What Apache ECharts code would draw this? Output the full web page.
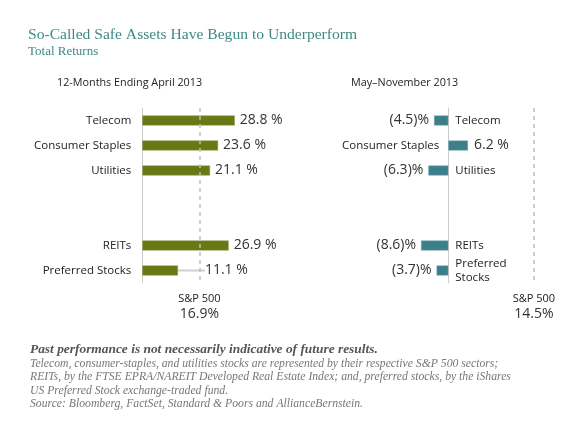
<!DOCTYPE html>
<html>
<head>
<meta charset="utf-8">
<script src="https://cdn.jsdelivr.net/npm/echarts@6/dist/echarts.min.js"></script>
<style>
html,body{margin:0;padding:0;background:#fff;}
#chart{width:580px;height:429px;}
</style>
</head>
<body>
<div id="chart"></div>
<script>
// ---- data ----
const categories = ['Telecom', 'Consumer Staples', 'Utilities', 'REITs', 'Preferred Stocks'];
const leftValues = [28.8, 23.6, 21.1, 26.9, 11.1];      // 12-Months Ending April 2013
const rightValues = [-4.5, 6.2, -6.3, -8.6, -3.7];      // May–November 2013
const benchmarkName = 'S&P 500';
const benchmarkValues = [16.9, 14.5];
const panelTitles = ['12-Months Ending April 2013', 'May–November 2013'];
const chartTitle = 'So-Called Safe Assets Have Begun to Underperform';
const chartSubtitle = 'Total Returns';
const noteBold = 'Past performance is not necessarily indicative of future results.';
const noteLines = [
  'Telecom, consumer-staples, and utilities stocks are represented by their respective S&P 500 sectors;',
  'REITs, by the FTSE EPRA/NAREIT Developed Real Estate Index; and, preferred stocks, by the iShares',
  'US Preferred Stock exchange-traded fund.',
  'Source: Bloomberg, FactSet, Standard & Poors and AllianceBernstein.'
];

// ---- layout helpers (gap rows between Utilities and REITs) ----
const gapKeys = [' ', '  '];
const axisCats = categories.slice(0, 3).concat(gapKeys, categories.slice(3));
function spread(vals) {
  return vals.slice(0, 3).concat([null, null], vals.slice(3));
}

const SANS = '"Open Sans", "Noto Sans", sans-serif';
const SERIF = '"Liberation Serif", "DejaVu Serif", serif';
const olive = '#687914';
const teal = '#3b7f8b';

const leftData = spread(leftValues).map((v, i) => {
  if (v == null) return null;
  const item = { value: v };
  if (axisCats[i] === 'Preferred Stocks') {
    item.labelLine = { show: true, lineStyle: { color: '#cfcfcf', width: 2 } };
  }
  return item;
});

const rightData = spread(rightValues).map(v => {
  if (v == null) return null;
  return { value: v, label: { position: v < 0 ? 'left' : 'right', distance: v < 0 ? 5 : 6 } };
});

const rightNames = [];
axisCats.forEach((c, i) => {
  const v = spread(rightValues)[i];
  if (v == null) return;
  rightNames.push({
    name: c,
    value: [0, c],
    label: { position: v < 0 ? 'right' : 'left', distance: v < 0 ? 7 : 9 }
  });
});

const fmtPct = v => (v < 0 ? '(' + Math.abs(v).toFixed(1) + ')%' : v.toFixed(1) + ' %');

const benchLabel = (v) => ({
  show: true,
  position: 'end',
  distance: 8,
  formatter: '{a|' + benchmarkName + '}\n{b|' + v.toFixed(1) + '%}',
  rich: {
    a: { fontFamily: SANS, fontSize: 11, color: '#222', lineHeight: 15 },
    b: { fontFamily: SANS, fontSize: 14, color: '#333', lineHeight: 17 }
  }
});

const option = {
  animation: false,
  backgroundColor: '#fff',
  title: [
    { text: chartTitle, left: 28, top: 27, padding: 0, textStyle: { fontFamily: SERIF, fontSize: 15.6, fontWeight: 'normal', color: '#3e8985' } },
    { text: chartSubtitle, left: 28, top: 45, padding: 0, textStyle: { fontFamily: SERIF, fontSize: 13, fontWeight: 'normal', color: '#3e8985' } },
    { text: panelTitles[0], left: 57, top: 77, padding: 0, textStyle: { fontFamily: SANS, fontSize: 10.8, fontWeight: 'normal', color: '#222' } },
    { text: panelTitles[1], left: 351, top: 77, padding: 0, textStyle: { fontFamily: SANS, fontSize: 10.8, fontWeight: 'normal', color: '#222' } },
    { text: noteBold, left: 30, top: 343, padding: 0, textStyle: { fontFamily: SERIF, fontSize: 13.4, fontStyle: 'italic', fontWeight: 'bold', color: '#555' } },
    { text: noteLines.join('\n'), left: 30, top: 357, padding: 0, textStyle: { fontFamily: SERIF, fontSize: 11.7, fontStyle: 'italic', fontWeight: 'normal', color: '#777', lineHeight: 13.4 } }
  ],
  grid: [
    { left: 142.3, top: 108, width: 128.4, height: 175 },
    { left: 416.6, top: 108, width: 126.8, height: 175 }
  ],
  xAxis: [
    { gridIndex: 0, type: 'value', min: 0, max: 40, show: false },
    { gridIndex: 1, type: 'value', min: -10, max: 30, show: false },
    { gridIndex: 0, type: 'value', min: 0, max: 38, show: false },   // benchmark placement axis
    { gridIndex: 1, type: 'value', min: -4, max: 16, show: false }   // benchmark placement axis
  ],
  yAxis: [
    {
      gridIndex: 0, type: 'category', inverse: true, data: axisCats,
      axisLine: { show: true, lineStyle: { color: '#cccccc', width: 1 } },
      axisTick: { show: false }, splitLine: { show: false },
      axisLabel: { margin: 11, fontFamily: SANS, fontSize: 11.5, color: '#222' }
    },
    {
      gridIndex: 1, type: 'category', inverse: true, data: axisCats,
      axisLine: { show: true, onZero: true, onZeroAxisIndex: 1, lineStyle: { color: '#cccccc', width: 1 } },
      axisTick: { show: false }, splitLine: { show: false },
      axisLabel: { show: false }
    }
  ],
  series: [
    {
      type: 'bar', xAxisIndex: 0, yAxisIndex: 0, data: leftData, barWidth: 10,
      itemStyle: { color: olive, borderColor: '#8f9b52', borderWidth: 0.5 },
      label: { show: true, position: 'right', distance: 5, fontFamily: SANS, fontSize: 14, color: '#333',
               formatter: p => fmtPct(p.value) },
      labelLayout: p => (axisCats[p.dataIndex] === 'Preferred Stocks' ? { dx: 22 } : {}),
      silent: true, z: 3
    },
    {
      type: 'bar', xAxisIndex: 1, yAxisIndex: 1, data: rightData, barWidth: 10,
      itemStyle: { color: teal, borderColor: '#78a6ae', borderWidth: 0.5 },
      label: { show: true, fontFamily: SANS, fontSize: 14, color: '#333', formatter: p => fmtPct(p.value) },
      silent: true, z: 3
    },
    {
      type: 'scatter', xAxisIndex: 1, yAxisIndex: 1, data: rightNames, symbolSize: 0,
      itemStyle: { opacity: 1 },
      label: { show: true, fontFamily: SANS, fontSize: 11.5, color: '#222', lineHeight: 14,
               formatter: p => (p.name === 'Preferred Stocks' ? 'Preferred\nStocks' : p.name) },
      silent: true
    },
    {
      type: 'line', xAxisIndex: 2, yAxisIndex: 0, data: [], silent: true,
      markLine: { symbol: 'none', silent: true, animation: false,
        lineStyle: { type: [4, 4], color: '#bdbdbd', width: 1.5 },
        label: benchLabel(benchmarkValues[0]),
        data: [{ xAxis: benchmarkValues[0] }] },
      z: 1
    },
    {
      type: 'line', xAxisIndex: 3, yAxisIndex: 1, data: [], silent: true,
      markLine: { symbol: 'none', silent: true, animation: false,
        lineStyle: { type: [4, 4], color: '#bdbdbd', width: 1.5 },
        label: benchLabel(benchmarkValues[1]),
        data: [{ xAxis: benchmarkValues[1] }] },
      z: 1
    }
  ]
};

const chart = echarts.init(document.getElementById('chart'), null, { renderer: 'canvas' });
chart.setOption(option);
</script>
</body>
</html>
